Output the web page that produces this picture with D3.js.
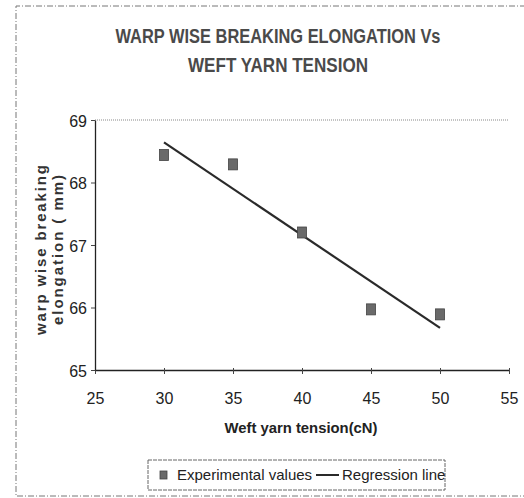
<!DOCTYPE html>
<html>
<head>
<meta charset="utf-8">
<script src="https://cdn.jsdelivr.net/npm/d3@7"></script>
<style>
  body { margin: 0; background: #fff; }
  svg { font-family: "Liberation Sans", Arial, sans-serif; }
</style>
</head>
<body>
<div id="chart"></div>
<script>
const tension = [30, 35, 40, 45, 50];
const elongation = [68.44, 68.29, 67.2, 65.97, 65.89];
const xTicks = [25, 30, 35, 40, 45, 50, 55];
const yTicks = [65, 66, 67, 68, 69];
const titleLines = ["WARP WISE BREAKING ELONGATION  Vs", "WEFT  YARN  TENSION"];
const yLabelLines = ["warp wise breaking", "elongation ( mm)"];

const width = 524, height = 498;
const plot = { left: 95, right: 509, top: 120, bottom: 370 };

const svg = d3.select("#chart").append("svg")
  .attr("width", width)
  .attr("height", height);

// outer dashed frame
svg.append("path")
  .attr("d", `M${width + 2},6 H16 V496 H${width + 2}`)
  .attr("fill", "none")
  .attr("stroke", "#777")
  .attr("stroke-width", 1)
  .attr("stroke-dasharray", "6,2,1,2");

const x = d3.scaleLinear().domain([25, 55]).range([plot.left, plot.right]);
const y = d3.scaleLinear().domain([65, 69]).range([plot.bottom, plot.top]);

// title
svg.append("g")
  .attr("fill", "#4a4a4a")
  .attr("font-weight", "bold")
  .attr("font-size", 20)
  .attr("text-anchor", "middle")
  .selectAll("text")
  .data(titleLines)
  .join("text")
  .attr("x", 278)
  .attr("y", (d, i) => 43 + i * 29)
  .attr("textLength", (d, i) => i ? 180 : 325)
  .attr("lengthAdjust", "spacingAndGlyphs")
  .text(d => d);

// top dotted border of plot
svg.append("line")
  .attr("x1", plot.left).attr("x2", plot.right)
  .attr("y1", plot.top).attr("y2", plot.top)
  .attr("stroke", "#888")
  .attr("stroke-dasharray", "1,1");

// axes
const xAxis = svg.append("g")
  .attr("transform", `translate(0,${plot.bottom})`)
  .call(d3.axisBottom(x).tickValues(xTicks).tickSize(4).tickSizeOuter(0));
const yAxis = svg.append("g")
  .attr("transform", `translate(${plot.left},0)`)
  .call(d3.axisLeft(y).tickValues(yTicks).tickFormat(d3.format("d")).tickSize(4).tickSizeOuter(0));

[xAxis, yAxis].forEach(a => {
  a.select(".domain").attr("stroke", "#222").attr("stroke-width", 1.3);
  a.selectAll(".tick line").attr("stroke", "#444");
  a.selectAll(".tick text")
    .attr("font-size", 16)
    .attr("fill", "#222")
    .attr("font-family", "'Liberation Sans', sans-serif");
});
xAxis.selectAll(".tick line").attr("y2", 4).attr("y1", -2);
xAxis.selectAll(".tick text").attr("dy", "0").attr("y", 34);
yAxis.selectAll(".tick text").attr("x", -8).attr("dy", "0.38em");

// axis titles
svg.append("text")
  .attr("x", 301)
  .attr("y", 433)
  .attr("text-anchor", "middle")
  .attr("font-size", 15)
  .attr("font-weight", "bold")
  .attr("fill", "#222")
  .attr("textLength", 153)
  .attr("lengthAdjust", "spacingAndGlyphs")
  .text("Weft yarn tension(cN)");

svg.append("g")
  .attr("transform", "translate(0,250) rotate(-90)")
  .selectAll("text")
  .data(yLabelLines)
  .join("text")
  .attr("x", 0)
  .attr("y", (d, i) => 46 + i * 17)
  .attr("text-anchor", "middle")
  .attr("font-size", 15)
  .attr("font-weight", "bold")
  .attr("textLength", (d, i) => i ? 150 : 170)
  .attr("lengthAdjust", "spacing")
  .attr("fill", "#333")
  .text(d => d);

// regression line from least squares
const mx = d3.mean(tension), my = d3.mean(elongation);
const slope = d3.sum(tension, (t, i) => (t - mx) * (elongation[i] - my)) /
  d3.sum(tension, t => (t - mx) * (t - mx));
const fit = t => my + slope * (t - mx);
const xExtent = d3.extent(tension);

svg.append("line")
  .attr("x1", x(xExtent[0])).attr("y1", y(fit(xExtent[0])))
  .attr("x2", x(xExtent[1])).attr("y2", y(fit(xExtent[1])))
  .attr("stroke", "#2a2a2a")
  .attr("stroke-width", 2.2);

// experimental points
const sw = 9, sh = 11;
svg.append("g")
  .selectAll("rect")
  .data(tension.map((t, i) => [t, elongation[i]]))
  .join("rect")
  .attr("x", d => x(d[0]) - sw / 2)
  .attr("y", d => y(d[1]) - sh / 2)
  .attr("width", sw)
  .attr("height", sh)
  .attr("fill", "#6a6a6a")
  .attr("stroke", "#444")
  .attr("stroke-width", 0.8);

// legend
const legend = svg.append("g").attr("transform", "translate(148,460)");
legend.append("rect")
  .attr("width", 297).attr("height", 30)
  .attr("fill", "#fff")
  .attr("stroke", "#666")
  .attr("stroke-dasharray", "4,1");
legend.append("rect")
  .attr("x", 12).attr("y", 11).attr("width", 7).attr("height", 8)
  .attr("fill", "#6a6a6a").attr("stroke", "#444").attr("stroke-width", 0.8);
legend.append("text")
  .attr("x", 29).attr("y", 20)
  .attr("font-size", 15).attr("fill", "#222")
  .text("Experimental values");
legend.append("line")
  .attr("x1", 168).attr("x2", 191).attr("y1", 15).attr("y2", 15)
  .attr("stroke", "#2a2a2a").attr("stroke-width", 2);
legend.append("text")
  .attr("x", 194).attr("y", 20)
  .attr("font-size", 15).attr("fill", "#222")
  .text("Regression line");
</script>
</body>
</html>
